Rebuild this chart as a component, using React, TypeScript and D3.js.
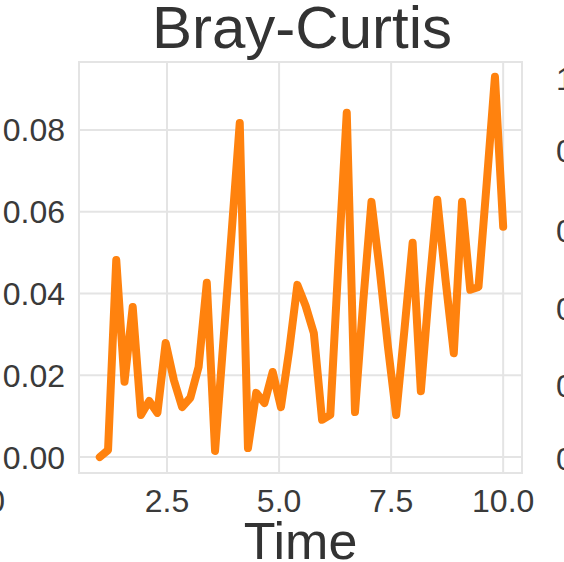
import React from "react";
import * as d3 from "d3";

const W = 564;
const H = 562;

const title = "Bray-Curtis";
const xLabel = "Time";
const xTicks = [2.5, 5.0, 7.5, 10.0];
const yTicks = [0.0, 0.02, 0.04, 0.06, 0.08];
const nPoints = 50;
const tStart = 1;
const tEnd = 10;
const values = [
  0.0, 0.0017, 0.0482, 0.0184, 0.0367, 0.0103, 0.0137, 0.0108, 0.0279, 0.0188,
  0.0122, 0.0145, 0.022, 0.0426, 0.0015, 0.028, 0.0545, 0.0817, 0.0022, 0.0157,
  0.0132, 0.0208, 0.0122, 0.026, 0.0421, 0.037, 0.0303, 0.0091, 0.0103, 0.048,
  0.0842, 0.011, 0.038, 0.0624, 0.0458, 0.027, 0.0103, 0.031, 0.0524, 0.0161,
  0.041, 0.0629, 0.0433, 0.0254, 0.0624, 0.0409, 0.0416, 0.067, 0.093, 0.0563,
];
const times = values.map((_, i) => tStart + ((tEnd - tStart) * i) / (nPoints - 1));
// clipped neighbour labels at the figure edges
const rightNeighbourLabels = ["1.0", "0.8", "0.6", "0.4", "0.2", "0.0"];
const rightNeighbourY = [78, 150, 230, 308, 385, 458];

const FONT = "'Liberation Sans', Arial, Helvetica, sans-serif";

export default function App() {
  const left = 79, right = 522, top = 62, bottom = 473;
  const x = d3.scaleLinear().domain([0.536, 10.42]).range([left, right]);
  const y = d3.scaleLinear().domain([-0.0039, 0.0966]).range([bottom, top]);
  const line = d3
    .line<number>()
    .x((_, i) => x(times[i]))
    .y((d) => y(d));

  return (
    <svg
      width={W}
      height={H}
      style={{ position: "absolute", left: 0, top: 0, background: "#fff" }}
      fontFamily={FONT}
    >
      <rect x={0} y={0} width={W} height={H} fill="#fff" />
      {/* grid */}
      {xTicks.map((t) => (
        <line key={"gx" + t} x1={x(t)} x2={x(t)} y1={top} y2={bottom} stroke="#e4e4e4" strokeWidth={2} />
      ))}
      {yTicks.map((t) => (
        <line key={"gy" + t} x1={left} x2={right} y1={y(t)} y2={y(t)} stroke="#e4e4e4" strokeWidth={2} />
      ))}
      <rect x={left} y={top} width={right - left} height={bottom - top} fill="none" stroke="#e4e4e4" strokeWidth={2} />
      {/* data line */}
      <path
        d={line(values) || ""}
        fill="none"
        stroke="#ff820e"
        strokeWidth={8}
        strokeLinejoin="round"
        strokeLinecap="round"
      />
      {/* y tick labels */}
      {yTicks.map((t) => (
        <text key={"ty" + t} x={65} y={y(t)} dy="0.36em" textAnchor="end" fontSize={32} fill="#3a3a3a">
          {t.toFixed(2)}
        </text>
      ))}
      {/* x tick labels */}
      {xTicks.map((t) => (
        <text key={"tx" + t} x={x(t)} y={512} textAnchor="middle" fontSize={32} fill="#3a3a3a">
          {t.toFixed(1)}
        </text>
      ))}
      {/* title and axis label */}
      <text x={302} y={48} textAnchor="middle" fontSize={60} fill="#333">
        {title}
      </text>
      <text x={(left + right) / 2} y={559} textAnchor="middle" fontSize={52} fill="#333">
        {xLabel}
      </text>
      {/* clipped neighbouring subplot labels */}
      {rightNeighbourLabels.map((s, i) => (
        <text key={"rn" + i} x={556} y={rightNeighbourY[i]} dy="0.36em" fontSize={32} fill="#3a3a3a">
          {s}
        </text>
      ))}
      <text x={5} y={512} textAnchor="end" fontSize={32} fill="#3a3a3a">
        10.0
      </text>
    </svg>
  );
}
